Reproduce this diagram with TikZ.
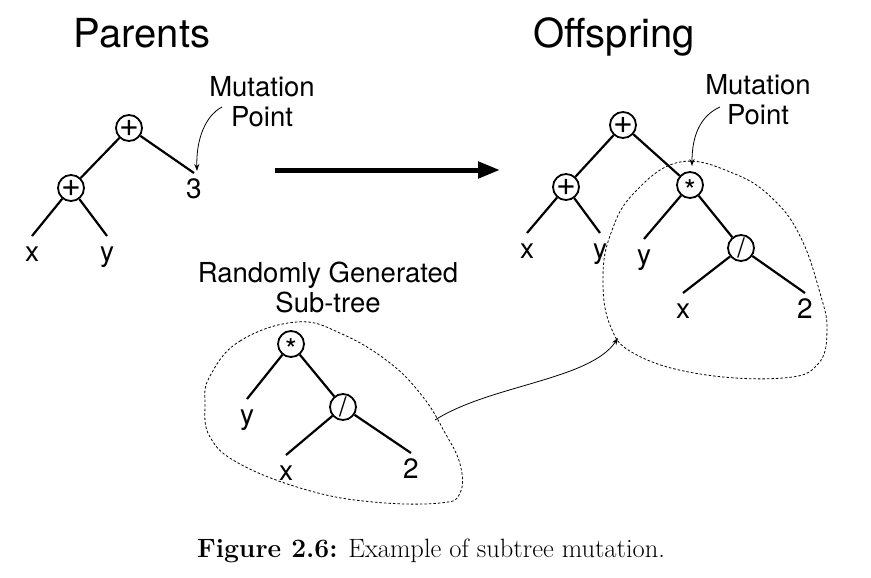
\documentclass[tikz,border=0pt]{standalone}
\usepackage{fontspec}
\newfontfamily\hv{TeX Gyre Heros}
\usetikzlibrary{arrows.meta}
\newcommand\opstar{\raisebox{-0.55em}[0pt][0pt]{*}}
\begin{document}
\begin{tikzpicture}[x=1pt,y=-1pt,
  op/.style={circle,draw,line width=1.8pt,minimum size=26pt,inner sep=0pt,font=\hv\fontsize{34}{36}\selectfont},
  opsl/.style={op,font=\hv\fontsize{27}{29}\selectfont},
  opst/.style={op,font=\hv\fontsize{30}{32}\selectfont},
  leaf/.style={anchor=north,inner sep=0pt,text height=25pt,text depth=6pt,font=\hv\fontsize{28}{30}\selectfont},
  br/.style={line width=2.2pt},
  lbl/.style={font=\hv\fontsize{27.5}{30}\selectfont,align=center,inner sep=0pt,anchor=north},
  title/.style={font=\hv\fontsize{40}{44}\selectfont,anchor=base,inner sep=0pt},
  blob/.style={dash pattern=on 2.5pt off 2pt,line width=0.8pt},
  thinarrow/.style={line width=0.8pt,-{Stealth[length=7pt,width=5pt]}}
]
\useasboundingbox (0,0) rectangle (871,578);

% titles
\node[title] (tp) at (142,48) {Parents};
\node[title] (to) at (614,48) {Offspring};

% left parent tree
\node[op] (p1) at (129,128) {+};
\node[op] (p2) at (71,188) {+};
\node[leaf] (p3) at (194,173) {3};
\node[leaf] (px) at (32,236) {x};
\node[leaf] (py) at (107,236) {y};
\draw[br] (p1) -- (p2);
\draw[br] (p1) -- (p3.north);
\draw[br] (p2) -- (px.north);
\draw[br] (p2) -- (py.north);

% mutation point (left)
\node[lbl] (m1) at (262,76) {Mutation\\Point};
\coordinate (m1s) at (222,107);
\coordinate (m1e) at (197,171);
\draw[thinarrow] (m1s) .. controls (205,116) and (196,140) .. (m1e);

% big arrow
\coordinate (bs) at (275,170);
\coordinate (be) at (500,170);
\draw[line width=5pt,-{Triangle[length=22pt,width=16pt]}] (bs) -- (be);

% right offspring tree
\node[op] (o1) at (623,125) {+};
\node[op] (o2) at (566,187) {+};
\node[opst] (o3) at (690,185) {\opstar};
\node[opsl] (o4) at (741,248) {/};
\node[leaf] (ox) at (527,233) {x};
\node[leaf] (oy) at (600,233) {y};
\node[leaf] (oy2) at (644,239) {y};
\node[leaf] (ox2) at (683,293) {x};
\node[leaf] (o2n) at (805,293) {2};
\draw[br] (o1) -- (o2);
\draw[br] (o1) -- (o3);
\draw[br] (o2) -- (ox.north);
\draw[br] (o2) -- (oy.north);
\draw[br] (o3) -- (oy2.north);
\draw[br] (o3) -- (o4);
\draw[br] (o4) -- (ox2.north);
\draw[br] (o4) -- (o2n.north);

% mutation point (right)
\node[lbl] (m2) at (758,74) {Mutation\\Point};
\coordinate (m2s) at (720,107);
\coordinate (m2e) at (692,166);
\draw[thinarrow] (m2s) .. controls (700,116) and (692,136) .. (m2e);

% right dashed blob
\draw[blob] plot[smooth cycle,tension=0.7] coordinates {(680,162) (735,174) (774,200) (801,238) (820,293) (827,330) (818,364) (783,378) (700,374) (635,354) (610,325) (603,277) (611,233) (634,193)};

% randomly generated subtree
\node[lbl] (rg) at (328,262) {Randomly Generated\\Sub-tree};
\node[opst] (s1) at (291,344) {\opstar};
\node[opsl] (s2) at (343,407) {/};
\node[leaf] (sy) at (247,399) {y};
\node[leaf] (sx) at (286,455) {x};
\node[leaf] (s2n) at (411,453) {2};
\draw[br] (s1) -- (sy.north);
\draw[br] (s1) -- (s2);
\draw[br] (s2) -- (sx.north);
\draw[br] (s2) -- (s2n.north);

% left dashed blob
\draw[blob] plot[smooth cycle,tension=0.7] coordinates {(210,376) (240,341) (297,322) (342,334) (390,363) (423,397) (444,431) (460,464) (460,493) (440,503) (373,502) (307,490) (240,464) (210,437) (205,404)};

% connecting curved arrow
\coordinate (cs) at (435,420);
\coordinate (ce) at (618,338);
\draw[thinarrow] (cs) .. controls (490,385) and (590,380) .. (ce);

% caption
\node[anchor=base,inner sep=0pt,font=\fontsize{26.5}{30}\selectfont] (cap) at (431,557) {\textbf{Figure 2.6:} Example of subtree mutation.};
\end{tikzpicture}
\end{document}
